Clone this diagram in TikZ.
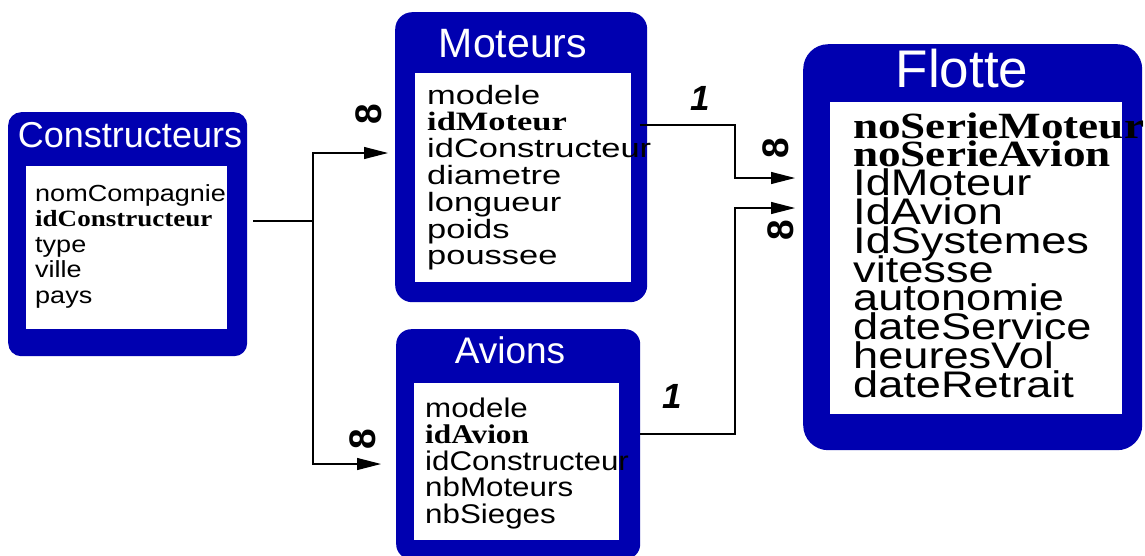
\documentclass[tikz,border=0pt]{standalone}
\usepackage{fontspec}
\setmainfont{Liberation Serif}
\setsansfont{Liberation Sans}
\usepackage{graphicx}
\usetikzlibrary{arrows.meta}

\definecolor{tblue}{RGB}{0,0,176}

\newcommand{\fieldrows}[4]{\scalebox{#1}[1]{\fontsize{#2}{#3}\selectfont\lineskiplimit=-\maxdimen\vtop{#4}}}
\newcommand{\fld}[1]{\hbox{\sffamily #1}}
\newcommand{\keyfld}[1]{\hbox{\rmfamily\bfseries #1}}

\tikzset{
  tblbox/.style={fill=tblue, rounded corners=#1, inner sep=0pt, anchor=north west},
  fieldbg/.style={fill=white, inner sep=0pt, anchor=north west},
  tbltitle/.style={text=white, inner sep=0pt, anchor=base, font=\sffamily\fontsize{#1}{#1}\selectfont},
  fields/.style={inner sep=0pt, anchor=base west},
  link/.style={line width=1.1pt, line join=miter},
  tip/.style={-{Triangle[length=24pt, width=12pt]}},
  card/.style={inner sep=0pt, font=\sffamily\bfseries\itshape\fontsize{35}{35}\selectfont},
  many/.style={inner sep=0pt, rotate=90, font=\sffamily\bfseries\fontsize{37}{37}\selectfont}
}

\begin{document}
\begin{tikzpicture}[x=1pt, y=-1pt]
\useasboundingbox (0,0) rectangle (1145,555);

\node[tblbox=13, minimum width=239, minimum height=244] (constr) at (8,112) {};
\node[fieldbg, minimum width=201, minimum height=163] (constrIn) at (26,166) {};
\node[tbltitle=36] (constrT) at (130,147) {Constructeurs};
\node[fields] (constrF) at (35,201) {\fieldrows{1.16}{23.3}{25.5}{%
  \fld{nomCompagnie}\keyfld{idConstructeur}\fld{type}\fld{ville}\fld{pays}}};

\node[tblbox=17, minimum width=252, minimum height=290] (moteurs) at (395,12) {};
\node[fieldbg, minimum width=216, minimum height=209] (moteursIn) at (415,73) {};
\node[tbltitle=41] (moteursT) at (513,57) {Moteurs};
\node[fields] (moteursF) at (427,104) {\fieldrows{1.3}{26.5}{26.8}{%
  \fld{modele}\keyfld{idMoteur}\fld{idConstructeur}\fld{diametre}%
  \fld{longueur}\fld{poids}\fld{poussee}}};

\node[tblbox=15, minimum width=244, minimum height=230] (avions) at (396,329) {};
\node[fieldbg, minimum width=205, minimum height=157] (avionsIn) at (414,383) {};
\node[tbltitle=37] (avionsT) at (510,363) {Avions};
\node[fields] (avionsF) at (425,417) {\fieldrows{1.16}{27}{26.5}{%
  \fld{modele}\keyfld{idAvion}\fld{idConstructeur}\fld{nbMoteurs}\fld{nbSieges}}};

\node[tblbox=25, minimum width=339, minimum height=406] (flotte) at (803,44) {};
\node[fieldbg, minimum width=292, minimum height=312] (flotteIn) at (830,102) {};
\node[tbltitle=53] (flotteT) at (962,87) {Flotte};
\node[fields] (flotteF) at (853,138) {\fieldrows{1.22}{37}{28.8}{%
  \keyfld{noSerieMoteur}\keyfld{noSerieAvion}\fld{IdMoteur}\fld{IdAvion}%
  \fld{IdSystemes}\fld{vitesse}\fld{autonomie}\fld{dateService}%
  \fld{heuresVol}\fld{dateRetrait}}};

% connector ends and bends
\coordinate (cOut) at (253,221);
\coordinate (fork) at (313,221);
\coordinate (mIn) at (388,153);
\coordinate (aIn) at (381,464);
\coordinate (mOut) at (640,125);
\coordinate (mBend) at (735,125);
\coordinate (aOut) at (640,434);
\coordinate (aBend) at (735,434);
\coordinate (fIn1) at (795,178);
\coordinate (fIn2) at (795,208);

\draw[link] (cOut) -- (fork);
\draw[link, tip] (fork) |- (mIn);
\draw[link, tip] (fork) |- (aIn);
\draw[link, tip] (mOut) -- (mBend) |- (fIn1);
\draw[link, tip] (aOut) -- (aBend) |- (fIn2);

\node[card] (mOne) at (700,98) {1};
\node[card] (aOne) at (672,396) {1};
\node[many] (mMany) at (369,114) {8};
\node[many] (aMany) at (363,439) {8};
\node[many] (fMany1) at (776,148) {8};
\node[many] (fMany2) at (781,230) {8};
\end{tikzpicture}
\end{document}
